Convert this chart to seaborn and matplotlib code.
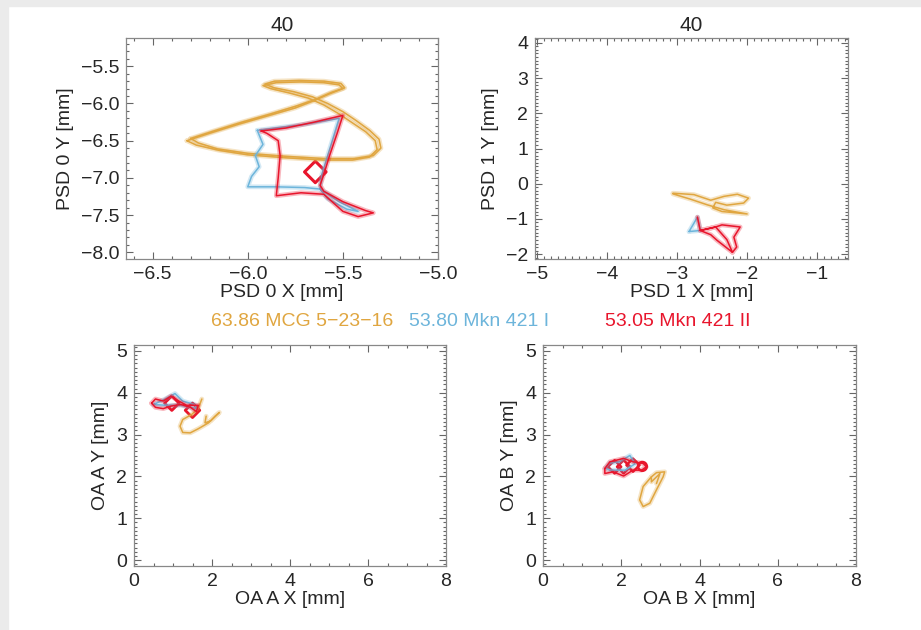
import matplotlib
matplotlib.use("Agg")
import matplotlib.pyplot as plt
import seaborn as sns
from matplotlib.ticker import MultipleLocator
from matplotlib.patches import Rectangle

GOLD = "#E0A640"
BLUE = "#6DB5DB"
RED = "#E8152C"

title = "40"
legend_labels = ["63.86 MCG 5\u221223\u221216", "53.80 Mkn 421 I", "53.05 Mkn 421 II"]

# ---- PSD 0 ----
psd0_mcg_x = [-6.32, -6.20, -6.05, -5.90, -5.75, -5.65, -5.57, -5.50, -5.52, -5.60, -5.72, -5.85,
              -5.92, -5.88, -5.78, -5.68, -5.60, -5.52, -5.45, -5.38, -5.33, -5.32, -5.36, -5.45,
              -5.60, -5.80, -6.00, -6.15, -6.27, -6.32]
psd0_mcg_y = [-6.50, -6.40, -6.28, -6.17, -6.06, -5.96, -5.87, -5.80, -5.75, -5.72, -5.71, -5.72,
              -5.76, -5.80, -5.86, -5.93, -6.02, -6.14, -6.26, -6.38, -6.50, -6.62, -6.72, -6.76,
              -6.76, -6.73, -6.69, -6.63, -6.56, -6.50]
psd0_mcg2_x = [-6.30, -6.18, -6.03, -5.88, -5.74, -5.64, -5.56, -5.49, -5.51, -5.60, -5.73, -5.86,
               -5.91, -5.86, -5.76, -5.66, -5.58, -5.50, -5.43, -5.36, -5.31, -5.30, -5.34, -5.44,
               -5.60, -5.80, -6.00, -6.16, -6.26, -6.30]
psd0_mcg2_y = [-6.47, -6.37, -6.25, -6.14, -6.03, -5.94, -5.85, -5.79, -5.73, -5.70, -5.69, -5.70,
               -5.74, -5.79, -5.84, -5.91, -6.00, -6.11, -6.23, -6.36, -6.48, -6.60, -6.70, -6.74,
               -6.74, -6.71, -6.67, -6.61, -6.53, -6.47]
psd0_mkn1_x = [-5.95, -5.92, -5.96, -5.94, -5.98, -6.00, -5.85, -5.70, -5.62, -5.52, -5.42, -5.48,
               -5.58, -5.62, -5.61, -5.58, -5.55, -5.52, -5.70, -5.95]
psd0_mkn1_y = [-6.36, -6.55, -6.70, -6.85, -6.98, -7.12, -7.12, -7.13, -7.15, -7.32, -7.45, -7.42,
               -7.28, -7.15, -6.95, -6.70, -6.45, -6.20, -6.28, -6.36]
psd0_mkn2_x = [-5.93, -5.80, -5.65, -5.50, -5.53, -5.57, -5.60, -5.62, -5.60, -5.50, -5.38, -5.34,
               -5.42, -5.50, -5.60, -5.72, -5.85, -5.84, -5.83, -5.84, -5.90, -5.93]
psd0_mkn2_y = [-6.37, -6.33, -6.25, -6.16, -6.40, -6.70, -6.95, -7.10, -7.18, -7.32, -7.44, -7.47,
               -7.52, -7.45, -7.22, -7.20, -7.24, -7.00, -6.70, -6.50, -6.40, -6.37]
psd0_diamond_x = [-5.645]
psd0_diamond_y = [-6.92]

# ---- PSD 1 ----
psd1_mcg_x = [-3.06, -2.76, -2.52, -2.33, -2.14, -1.98, -2.05, -2.29, -2.45, -2.49, -2.36, -2.00,
              -2.33, -2.57, -2.81, -3.06]
psd1_mcg_y = [-0.27, -0.31, -0.47, -0.36, -0.30, -0.41, -0.55, -0.61, -0.53, -0.69, -0.79, -0.86,
              -0.74, -0.60, -0.44, -0.29]
psd1_mkn1_x = [-2.83, -2.71, -2.67, -2.83]
psd1_mkn1_y = [-1.36, -0.95, -1.33, -1.36]
psd1_mkn2_x = [-2.71, -2.67, -2.45, -2.36, -2.10, -2.19, -2.15, -2.21, -2.43, -2.52, -2.67, -2.45,
               -2.29, -2.21]
psd1_mkn2_y = [-0.95, -1.33, -1.23, -1.17, -1.23, -1.52, -1.80, -1.95, -1.61, -1.45, -1.33, -1.23,
               -1.59, -1.95]

# ---- OA A ----
oaa_mcg_x = [1.74, 1.65, 1.48, 1.25, 1.18, 1.25, 1.44, 1.65, 1.91, 2.08, 2.19, 1.97, 1.82, 1.85]
oaa_mcg_y = [3.85, 3.63, 3.48, 3.36, 3.20, 3.05, 3.04, 3.14, 3.28, 3.44, 3.53, 3.33, 3.28, 3.44]
oaa_mkn1_x = [0.50, 0.80, 1.05, 1.25, 1.55, 1.60, 1.20, 0.80, 0.50]
oaa_mkn1_y = [3.72, 3.85, 3.98, 3.80, 3.72, 3.62, 3.70, 3.70, 3.72]
oaa_mkn2_x = [0.45, 0.55, 0.75, 0.95, 1.15, 1.35, 1.65, 1.60, 1.45, 1.20, 0.95, 0.75, 0.55, 0.45]
oaa_mkn2_y = [3.75, 3.85, 3.80, 3.92, 3.80, 3.70, 3.70, 3.55, 3.65, 3.72, 3.68, 3.62, 3.65, 3.75]
oaa_diamond_x = [0.97, 1.50]
oaa_diamond_y = [3.75, 3.58]

# ---- OA B ----
oab_mcg_x = [2.77, 2.90, 3.11, 3.07, 2.90, 2.73, 2.56, 2.47, 2.56, 2.77, 2.77, 2.99, 2.90]
oab_mcg_y = [1.99, 2.09, 2.11, 1.99, 1.68, 1.36, 1.28, 1.44, 1.76, 1.99, 1.87, 2.07, 1.83]
oab_mkn1_x = [1.60, 1.71, 1.95, 2.22, 2.35, 2.10, 1.71, 1.60]
oab_mkn1_y = [2.20, 2.32, 2.35, 2.50, 2.30, 2.15, 2.15, 2.20]
oab_mkn2_x = [1.58, 1.71, 2.06, 2.30, 2.56, 2.64, 2.52, 2.30, 2.06, 1.79, 1.58, 1.58]
oab_mkn2_y = [2.19, 2.35, 2.43, 2.35, 2.31, 2.23, 2.15, 2.15, 2.01, 2.11, 2.07, 2.19]
oab_diamond_x = [1.83, 2.06, 2.30]
oab_diamond_y = [2.23, 2.23, 2.27]
oab_circle_x = [2.54]
oab_circle_y = [2.24]

sns.set_style("ticks")
plt.rcParams["font.family"] = ["Liberation Sans", "DejaVu Sans"]

W, H = 921, 630
fig = plt.figure(figsize=(W / 100, H / 100), dpi=100)
fig.add_artist(Rectangle((0, 0), 8 / W, 1, transform=fig.transFigure, color="#ebebeb", zorder=-5))
fig.add_artist(Rectangle((0, 1 - 6 / H), 1, 6 / H, transform=fig.transFigure, color="#ebebeb", zorder=-5))


def box(l, t, r, b):
    return [l / W, 1 - b / H, (r - l) / W, (b - t) / H]


def style(ax, xlim, ylim, xmaj, xmin, ymaj, ymin, xlabel, ylabel):
    ax.set_xlim(*xlim)
    ax.set_ylim(*ylim)
    ax.xaxis.set_major_locator(MultipleLocator(xmaj))
    ax.xaxis.set_minor_locator(MultipleLocator(xmin))
    ax.yaxis.set_major_locator(MultipleLocator(ymaj))
    ax.yaxis.set_minor_locator(MultipleLocator(ymin))
    ax.tick_params(which="both", direction="in", top=True, right=True, color="#666666",
                   labelsize=14, width=0.8)
    ax.tick_params(which="major", length=5, pad=5)
    ax.tick_params(which="minor", length=2.5)
    for s in ax.spines.values():
        s.set_color("#888888")
        s.set_linewidth(0.9)
    ax.set_xlabel(xlabel, fontsize=14, labelpad=1)
    ax.set_ylabel(ylabel, fontsize=14, labelpad=5)


def paths(ax, series):
    for xs, ys, c in series:
        sns.lineplot(x=xs, y=ys, sort=False, estimator=None, color=c, lw=3.4, alpha=0.3, ax=ax)
        sns.lineplot(x=xs, y=ys, sort=False, estimator=None, color=c, lw=1.1, ax=ax)


ax1 = fig.add_axes(box(126, 38, 438, 259))
paths(ax1, [(psd0_mcg_x, psd0_mcg_y, GOLD), (psd0_mcg2_x, psd0_mcg2_y, GOLD),
            (psd0_mkn1_x, psd0_mkn1_y, BLUE), (psd0_mkn2_x, psd0_mkn2_y, RED)])
sns.scatterplot(x=psd0_diamond_x, y=psd0_diamond_y, marker="D", s=120, facecolor="none",
                edgecolor=RED, linewidth=2.2, ax=ax1)
style(ax1, (-6.64, -5.0), (-8.09, -5.12), 0.5, 0.1, 0.5, 0.1, "PSD 0 X [mm]", "PSD 0 Y [mm]")
ax1.set_title(title, fontsize=15, pad=5)

ax2 = fig.add_axes(box(535, 38, 848, 259))
paths(ax2, [(psd1_mcg_x, psd1_mcg_y, GOLD), (psd1_mkn1_x, psd1_mkn1_y, BLUE),
            (psd1_mkn2_x, psd1_mkn2_y, RED)])
style(ax2, (-5.03, -0.56), (-2.14, 4.14), 1, 0.1, 1, 0.1, "PSD 1 X [mm]", "PSD 1 Y [mm]")
ax2.set_title(title, fontsize=15, pad=5)

ax3 = fig.add_axes(box(134, 345, 446, 566))
paths(ax3, [(oaa_mcg_x, oaa_mcg_y, GOLD), (oaa_mkn1_x, oaa_mkn1_y, BLUE),
            (oaa_mkn2_x, oaa_mkn2_y, RED)])
sns.scatterplot(x=oaa_diamond_x, y=oaa_diamond_y, marker="D", s=55, facecolor="none",
                edgecolor=RED, linewidth=2, ax=ax3)
style(ax3, (0, 8), (-0.14, 5.14), 2, 0.5, 1, 0.1, "OA A X [mm]", "OA A Y [mm]")

ax4 = fig.add_axes(box(543, 345, 856, 566))
paths(ax4, [(oab_mcg_x, oab_mcg_y, GOLD), (oab_mkn1_x, oab_mkn1_y, BLUE),
            (oab_mkn2_x, oab_mkn2_y, RED)])
sns.scatterplot(x=oab_diamond_x, y=oab_diamond_y, marker="D", s=45, facecolor="none",
                edgecolor=RED, linewidth=1.8, ax=ax4)
sns.scatterplot(x=oab_circle_x, y=oab_circle_y, marker="o", s=40, facecolor="none",
                edgecolor=RED, linewidth=1.8, ax=ax4)
style(ax4, (0, 8), (-0.14, 5.14), 2, 0.5, 1, 0.1, "OA B X [mm]", "OA B Y [mm]")

for txt, c, xp in zip(legend_labels, [GOLD, BLUE, RED], [211, 409, 605]):
    fig.text(xp / W, 1 - 322 / H, txt, color=c, fontsize=14, va="center", ha="left")

fig.savefig("out.png", dpi=100, facecolor="white")
